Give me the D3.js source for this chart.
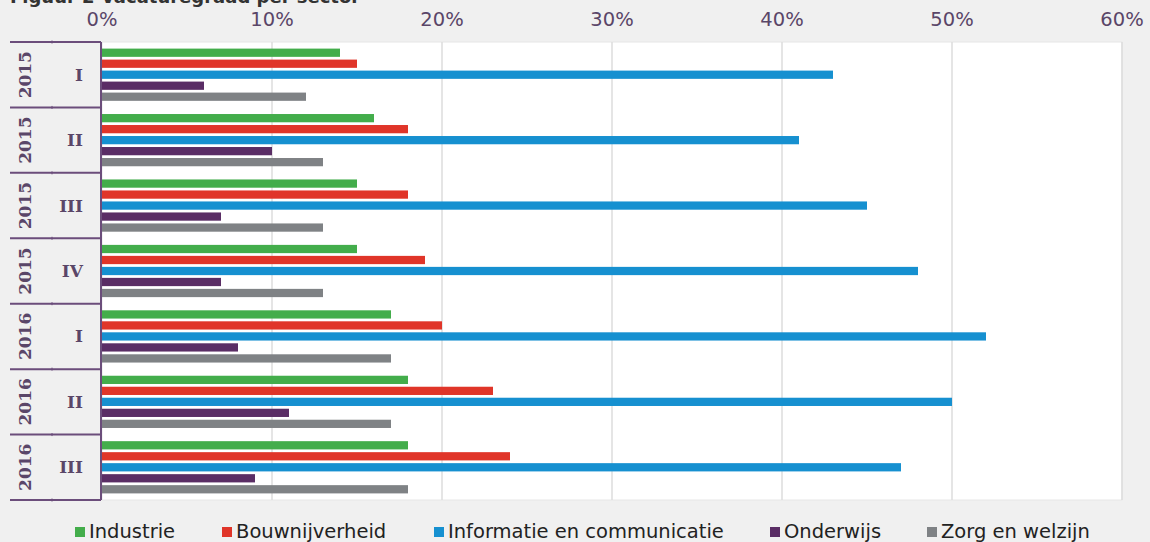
<!DOCTYPE html>
<html>
<head>
<meta charset="utf-8">
<script src="https://cdn.jsdelivr.net/npm/d3@7"></script>
<style>
  body { margin: 0; background: #f0f0f0; }
  svg { display: block; }
</style>
</head>
<body>
<div id="chart"></div>
<script>
// data
var years = ["2015", "2015", "2015", "2015", "2016", "2016", "2016"];
var quarters = ["I", "II", "III", "IV", "I", "II", "III"];
var sectors = ["Industrie", "Bouwnijverheid", "Informatie en communicatie", "Onderwijs", "Zorg en welzijn"];
var industrie = [14, 16, 15, 15, 17, 18, 18];
var bouw = [15, 18, 18, 19, 20, 23, 24];
var informatie = [43, 41, 45, 48, 52, 50, 47];
var onderwijs = [6, 10, 7, 7, 8, 11, 9];
var zorg = [12, 13, 13, 13, 17, 17, 18];
var xTicks = [0, 10, 20, 30, 40, 50, 60];

var colors = ["#43ad4b", "#e03529", "#1690d0", "#5a2d65", "#7f8285"];
var series = [industrie, bouw, informatie, onderwijs, zorg];

var width = 1150, height = 542;
var margin = {left: 102, right: 28, top: 42, bottom: 42};
var axisColor = "#6b4d7b";
var textColor = "#5a4668";

var svg = d3.select("#chart")
    .append("svg")
    .attr("width", width)
    .attr("height", height);

// title, mostly cut off by the top edge as in the source
svg.append("text")
    .attr("x", 10)
    .attr("y", 3)
    .attr("font-family", "DejaVu Sans, Verdana, sans-serif")
    .attr("font-weight", "bold")
    .attr("font-size", 18)
    .attr("fill", "#333")
    .text("Figuur 2 Vacaturegraad per sector");

// scales
const x = d3.scaleLinear()
    .domain([0, 60])
    .range([margin.left, width - margin.right]);

const y = d3.scaleBand()
    .domain(d3.range(years.length))
    .range([margin.top, height - margin.bottom])
    .padding(0);

const yInner = d3.scaleBand()
    .domain(d3.range(sectors.length))
    .range([0, y.bandwidth()])
    .paddingInner(0.25)
    .paddingOuter(0.6);

// plot background
svg.append("rect")
    .attr("x", x(0))
    .attr("y", margin.top)
    .attr("width", x(60) - x(0))
    .attr("height", height - margin.bottom - margin.top)
    .attr("fill", "#fff")
    .attr("stroke", "#e6e6e6");

// grid
svg.append("g").selectAll("line")
    .data(xTicks.slice(1))
    .enter()
    .append("line")
    .attr("x1", d => x(d))
    .attr("x2", d => x(d))
    .attr("y1", margin.top)
    .attr("y2", height - margin.bottom)
    .attr("stroke", "#dcdcdc")
    .attr("stroke-width", 1.5);

// top axis labels
svg.append("g").selectAll("text")
    .data(xTicks)
    .enter()
    .append("text")
    .attr("x", d => x(d))
    .attr("y", 26)
    .attr("text-anchor", "middle")
    .attr("font-family", "DejaVu Sans, Verdana, sans-serif")
    .attr("font-size", 19.5)
    .attr("fill", textColor)
    .text(d => d + "%");

// bars
series.forEach(function (vals, s) {
    svg.append("g").selectAll("rect")
        .data(vals)
        .enter()
        .append("rect")
        .attr("x", x(0))
        .attr("y", (d, i) => y(i) + yInner(s))
        .attr("width", d => x(d) - x(0))
        .attr("height", yInner.bandwidth())
        .attr("fill", colors[s]);
});

// category axis (two levels)
var axis = svg.append("g");
axis.append("line")
    .attr("x1", x(0) - 1).attr("x2", x(0) - 1)
    .attr("y1", margin.top).attr("y2", height - margin.bottom)
    .attr("stroke", axisColor).attr("stroke-width", 2);

var bounds = d3.range(years.length).map(i => y(i)).concat([height - margin.bottom]);
axis.selectAll(".hline")
    .data(bounds)
    .enter()
    .append("line")
    .attr("x1", 10).attr("x2", x(0) - 1)
    .attr("y1", d => d).attr("y2", d => d)
    .attr("stroke", axisColor).attr("stroke-width", 2);

axis.selectAll(".tick")
    .data(bounds)
    .enter()
    .append("line")
    .attr("x1", 52).attr("x2", 52)
    .attr("y1", d => d - 1.5).attr("y2", d => d + 1.5)
    .attr("stroke", axisColor).attr("stroke-width", 1);

axis.selectAll(".year")
    .data(years)
    .enter()
    .append("text")
    .attr("transform", (d, i) => "translate(31," + (y(i) + y.bandwidth() / 2) + ") rotate(-90)")
    .attr("text-anchor", "middle")
    .attr("font-family", "DejaVu Serif, Georgia, serif")
    .attr("font-weight", "bold")
    .attr("font-size", 17)
    .attr("fill", textColor)
    .text(d => d);

axis.selectAll(".quarter")
    .data(quarters)
    .enter()
    .append("text")
    .attr("x", 83)
    .attr("y", (d, i) => y(i) + y.bandwidth() / 2 + 6)
    .attr("text-anchor", "end")
    .attr("font-family", "DejaVu Serif, Georgia, serif")
    .attr("font-weight", "bold")
    .attr("font-size", 17)
    .attr("fill", textColor)
    .text(d => d);

// legend
var legendX = [75, 222, 434, 770, 927];
var legend = svg.append("g").selectAll("g")
    .data(sectors)
    .enter()
    .append("g")
    .attr("transform", (d, i) => "translate(" + legendX[i] + ",532)");

legend.append("rect")
    .attr("x", 0)
    .attr("y", -5)
    .attr("width", 10)
    .attr("height", 10)
    .attr("fill", (d, i) => colors[i]);

legend.append("text")
    .attr("x", 14)
    .attr("y", 6)
    .attr("font-family", "DejaVu Sans, Verdana, sans-serif")
    .attr("font-size", 19.5)
    .attr("fill", "#222")
    .text(d => d);
</script>
</body>
</html>
